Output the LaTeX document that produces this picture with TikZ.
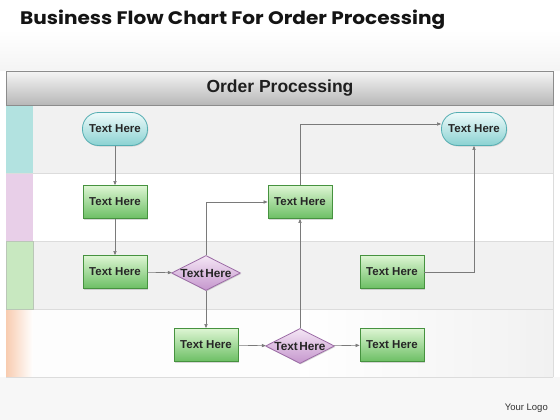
\documentclass[tikz,border=0pt]{standalone}
\usepackage{fontspec}
\setmainfont{Liberation Sans}
\newfontfamily\titlefont{Poppins}
\usetikzlibrary{shapes.geometric,shadows,arrows.meta,calc}
\definecolor{procT}{HTML}{DDF5D3}
\definecolor{procD}{HTML}{6CBF64}
\definecolor{procB}{HTML}{46923F}
\definecolor{termT}{HTML}{EEFAFA}
\definecolor{termD}{HTML}{8AD2D2}
\definecolor{termB}{HTML}{55AEB2}
\definecolor{decT}{HTML}{F4E6F5}
\definecolor{decD}{HTML}{C596CD}
\definecolor{decB}{HTML}{9C6CA6}
\definecolor{laneG}{HTML}{F1F1F1}
\definecolor{laneW}{HTML}{FDFDFD}
\definecolor{laneLine}{HTML}{DCDCDC}
\definecolor{stripC}{HTML}{B2E2E0}
\definecolor{stripP}{HTML}{E8CFE8}
\definecolor{stripG}{HTML}{C8E8C0}
\definecolor{stripO}{HTML}{F8CCB0}
\definecolor{flowC}{HTML}{7A7A7A}
\begin{document}
\begin{tikzpicture}[x=1pt,y=-1pt,
  boxtext/.style={font=\fontsize{11.5}{12}\selectfont\bfseries, text=black!85},
  proc/.style={boxtext, rectangle, draw=procB, line width=0.8pt, top color=procT, bottom color=procD,
    minimum width=64pt, minimum height=33pt, inner sep=0pt,
    drop shadow={shadow xshift=0.8pt, shadow yshift=-1pt, opacity=0.3}},
  term/.style={boxtext, rectangle, rounded corners=16pt, draw=termB, line width=0.8pt, top color=termT, bottom color=termD,
    minimum width=65pt, minimum height=33pt, inner sep=0pt,
    drop shadow={shadow xshift=0.8pt, shadow yshift=-1pt, opacity=0.3}},
  dec/.style={diamond, font=\fontsize{11.8}{12}\selectfont\bfseries, text=black!85, draw=decB, line width=0.8pt,
    top color=decT, bottom color=decD, minimum width=69pt, minimum height=35pt, inner sep=0pt, aspect=2,
    drop shadow={shadow xshift=0.8pt, shadow yshift=-1pt, opacity=0.3}},
  flow/.style={draw=flowC, line width=0.6pt, -{Triangle[length=4pt,width=3.2pt]}},
]
\useasboundingbox (0,0) rectangle (560,420);
% background
\fill[white] (0,0) rectangle (560,420);
\shade[top color=white, bottom color=laneG!80!white] (0,30) rectangle (560,71);
\fill[laneG!60!white] (0,377) rectangle (560,420);
% lanes
\fill[laneG] (6,105) rectangle (553,173);
\fill[white] (6,173) rectangle (553,241);
\fill[laneG] (6,241) rectangle (553,309);
\fill[laneW] (6,309) rectangle (553,377);
\shade[left color=white, right color=laneG] (300,309) rectangle (553,377);
\fill[stripC] (6,105) rectangle (33,173);
\fill[stripP] (6,173) rectangle (33,241);
\fill[stripG] (6,241) rectangle (33,309);
\shade[left color=stripO, right color=white] (6,309) rectangle (33,377);
\draw[laneLine, line width=0.5pt] (6,173) -- (553,173) (6,241) -- (553,241) (6,309) -- (553,309) (6,377) -- (553,377);
\draw[laneLine, line width=0.5pt] (553,105) -- (553,377);
\draw[stripG!70!black!60, line width=0.4pt] (6,241) rectangle (33,309);
% header bar
\shade[top color=white!96!black, bottom color=black!28] (6,71) rectangle (553,105);
\draw[black!45, line width=0.5pt] (6,71) rectangle (553,105);
\node[font=\fontsize{17.5}{18}\selectfont\bfseries, text=black!88] (hdr) at (280,88) {Order Processing};
% title
\node[anchor=base west, inner sep=0pt, text=black!92] (title) at (20,25)
  {\resizebox{425pt}{14.5pt}{\titlefont\bfseries Business Flow Chart For Order Processing}};
\node[anchor=base east, inner sep=0pt, font=\fontsize{9.5}{10}\selectfont, text=black!80] (logo) at (548,410) {Your Logo};
% nodes
\node[term] (start) at (115,129) {Text Here};
\node[proc] (a) at (115,202) {Text Here};
\node[proc] (b) at (115,272) {Text Here};
\node[dec]  (d1) at (206,273) {Text\hspace{1.5pt}Here};
\node[proc] (c) at (206,345) {Text Here};
\node[dec]  (d2) at (300,346) {Text\hspace{1.5pt}Here};
\node[proc] (d) at (392,345) {Text Here};
\node[proc] (e) at (392,272) {Text Here};
\node[proc] (f) at (300,202) {Text Here};
\node[term] (endn) at (474,129) {Text Here};
% connectors
\draw[flow] (start) -- (a);
\draw[flow] (a) -- (b);
\draw[flow] (b) -- (d1);
\draw[flow] (d1.north) |- (f.west);
\draw[flow] (d1.south) -- (c.north);
\draw[flow] (c) -- (d2);
\draw[flow] (d2) -- (d);
\draw[flow] (d2.north) -- (f.south);
\draw[flow] (f.north) |- ([yshift=5pt]endn.west);
\draw[flow] (e.east) -| (endn.south);
\end{tikzpicture}
\end{document}
